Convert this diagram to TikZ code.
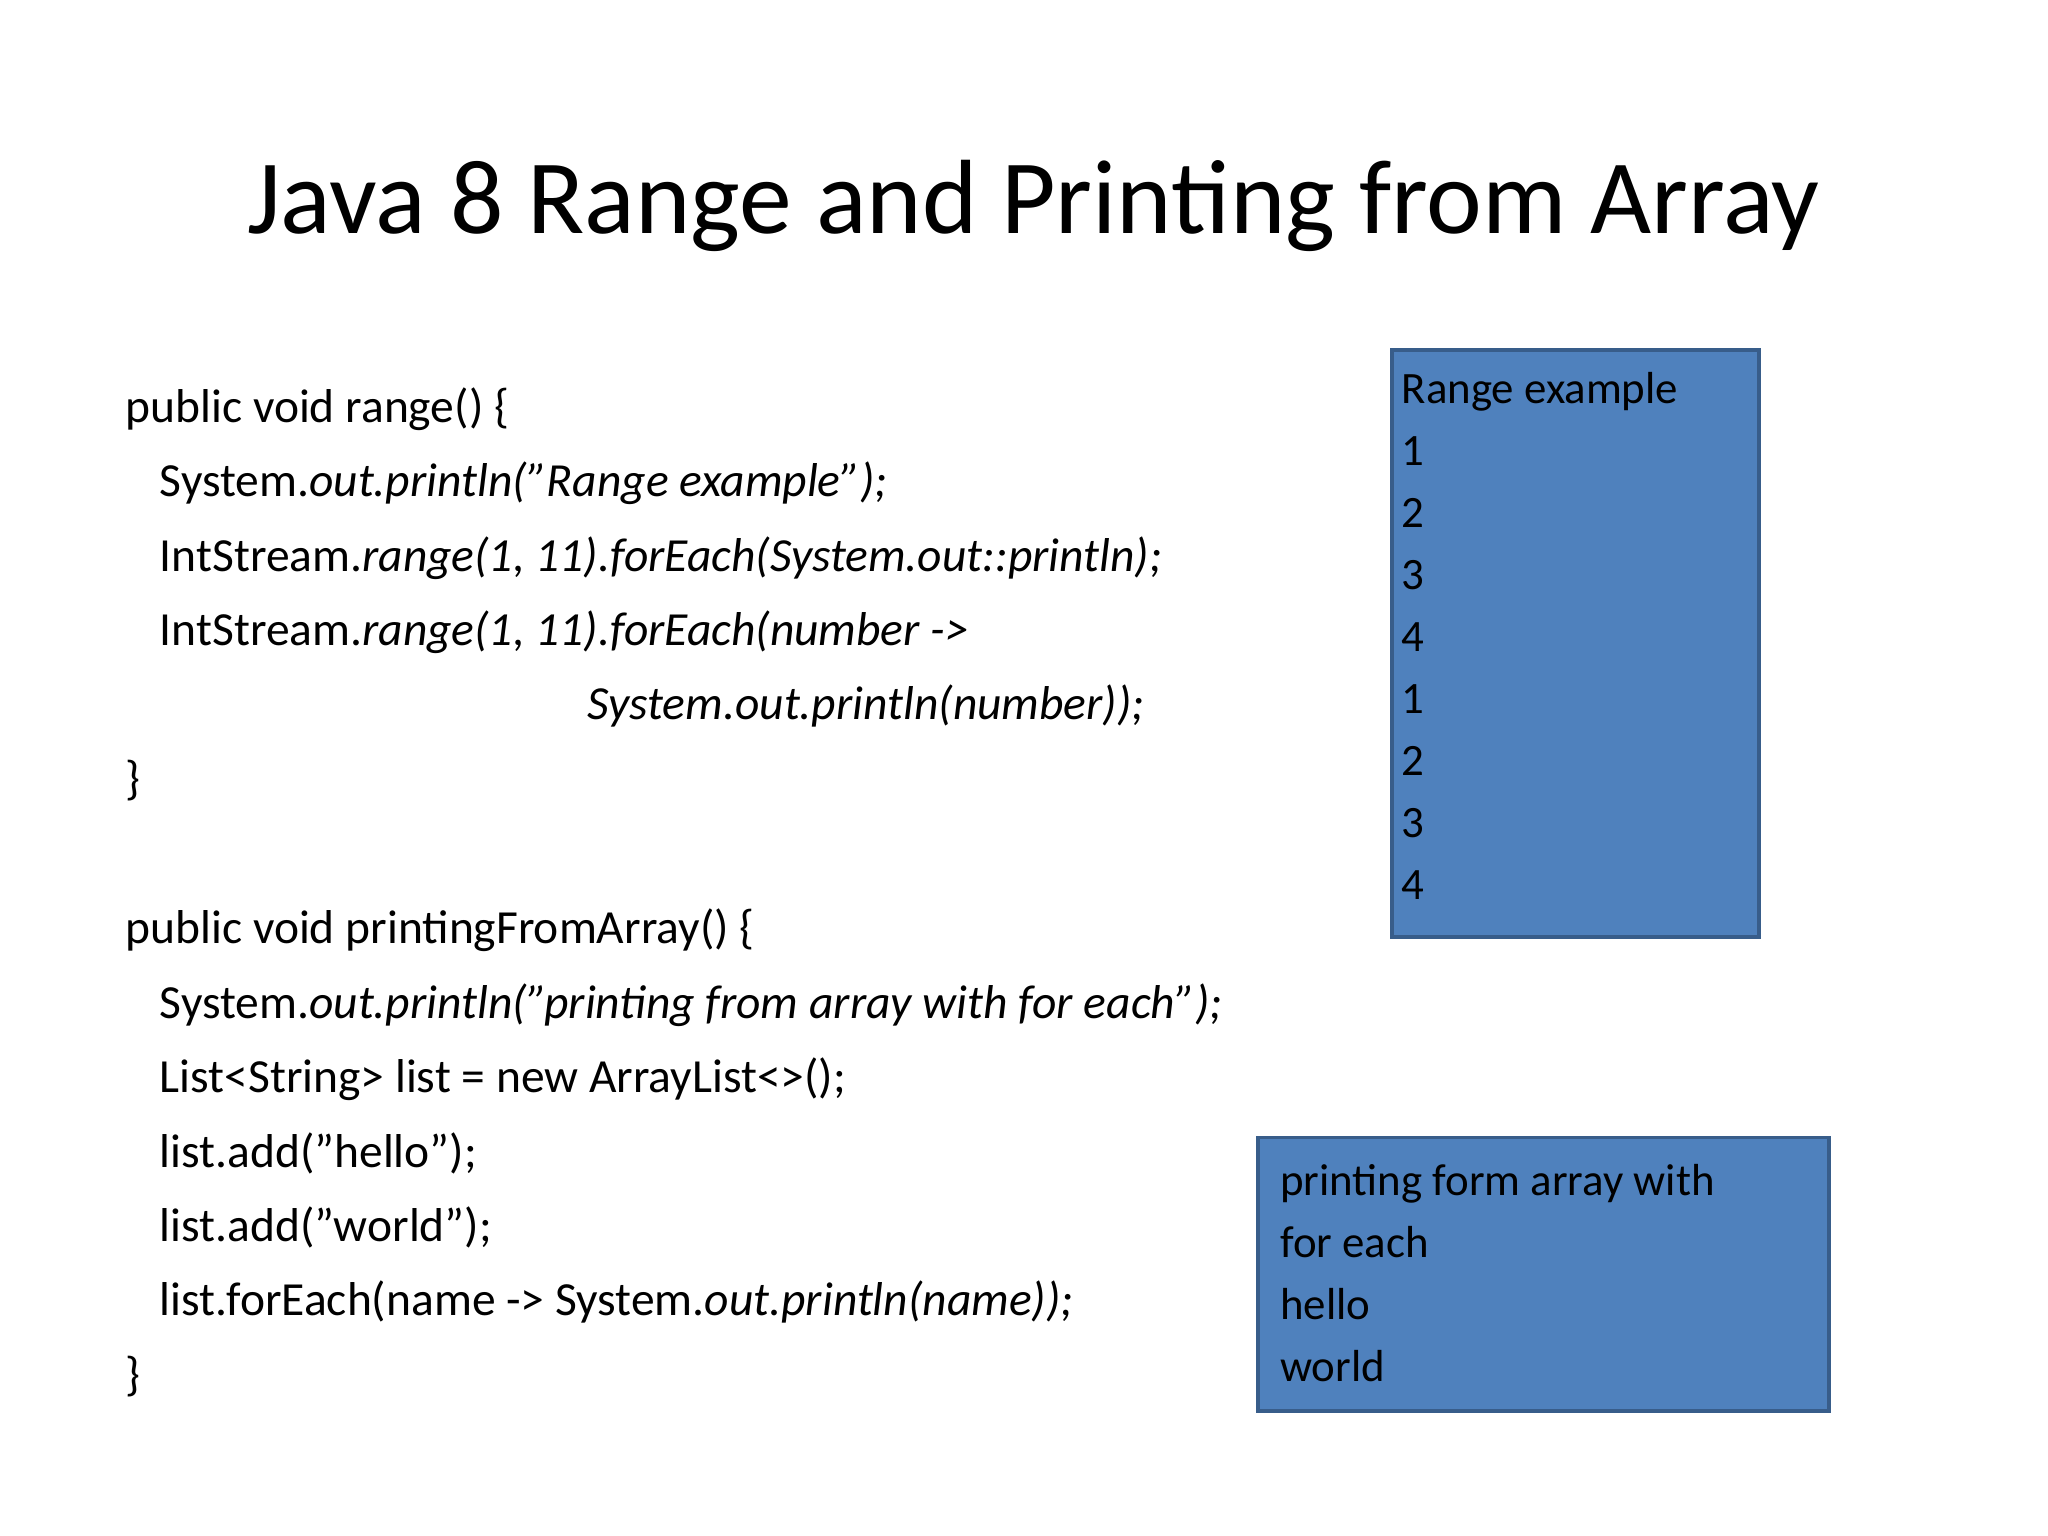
\documentclass[tikz,border=0pt]{standalone}
\usepackage{fontspec}
\setmainfont{Carlito}
\begin{document}
\begin{tikzpicture}[x=1pt,y=-1pt,
  code/.style={anchor=base west,inner sep=0pt,font=\fontsize{36}{40}\selectfont},
  outtext/.style={anchor=base west,inner sep=0pt,font=\fontsize{34}{38}\selectfont},
  box/.style={fill=boxfill,draw=boxedge,line width=3pt}]
\definecolor{boxfill}{HTML}{4F81BD}
\definecolor{boxedge}{HTML}{385D8A}
\useasboundingbox (0,0) rectangle (1552,1164);
\node[anchor=base,inner sep=0pt,font=\fontsize{80}{90}\selectfont] (title) at (783,177) {Java 8 Range and Printing from Array};
\node[code] (c1) at (95,320) {public void range() \{};
\node[code] (c2) at (121,376) {System.\textit{out.println("Range example");}};
\node[code] (c3) at (121,433) {IntStream.\textit{range(1, 11).forEach(System.out::println);}};
\node[code] (c4) at (121,489) {IntStream.\textit{range(1, 11).forEach(number ->}};
\node[code] (c5) at (445,545) {\textit{System.out.println(number));}};
\node[code] (c6) at (95,602) {\}};
\node[code] (d1) at (95,715) {public void printingFromArray() \{};
\node[code] (d2) at (121,772) {System.\textit{out.println("printing from array with for each");}};
\node[code] (d3) at (121,828) {List<String> list = new ArrayList<>();};
\node[code] (d4) at (121,885) {list.add("hello");};
\node[code] (d5) at (121,941) {list.add("world");};
\node[code] (d6) at (121,997) {list.forEach(name -> System.\textit{out.println(name));}};
\node[code] (d7) at (95,1054) {\}};
\draw[box] (1055,265) rectangle (1333,710);
\foreach \t [count=\i] in {Range example,1,2,3,4,1,2,3,4}
  \node[outtext] (r\i) at (1062,{306+47*(\i-1)}) {\t};
\draw[box] (953,862) rectangle (1386,1069);
\foreach \t [count=\i] in {printing form array with,for each,hello,world}
  \node[outtext] (p\i) at (970,{906+47*(\i-1)}) {\t};
\end{tikzpicture}
\end{document}
